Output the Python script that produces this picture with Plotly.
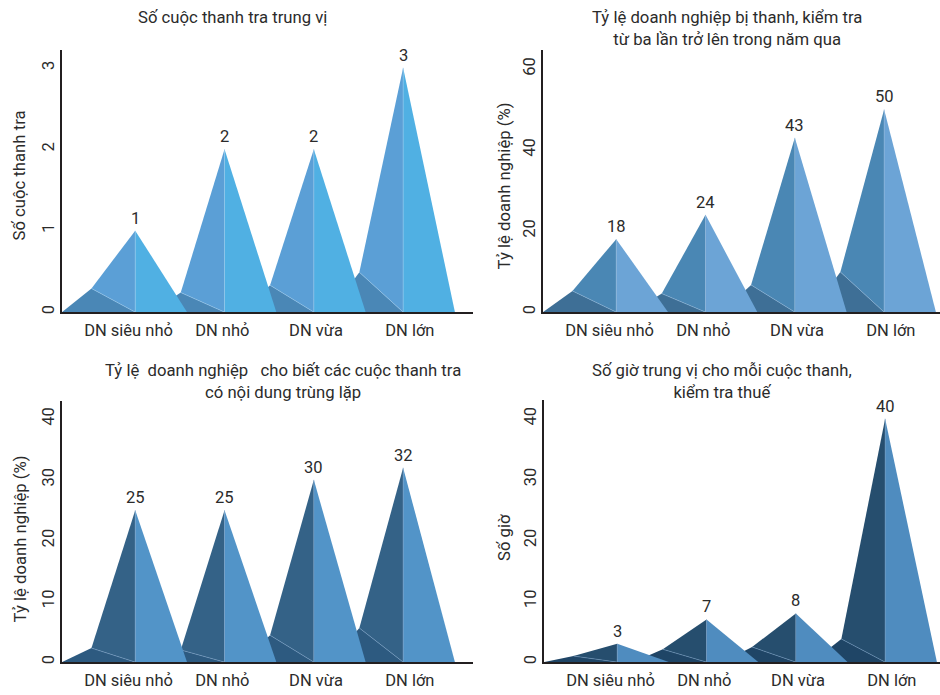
import plotly.graph_objects as go

# ---------------- data ----------------
CATEGORIES = ["DN siêu nhỏ", "DN nhỏ", "DN vừa", "DN lớn"]
INSPECTIONS_MEDIAN = [1, 2, 2, 3]          # Số cuộc thanh tra trung vị
FREQUENT_SHARE = [18, 24, 43, 50]          # % DN bị thanh, kiểm tra >= 3 lần
OVERLAP_SHARE = [25, 25, 30, 32]           # % DN cho biết nội dung trùng lặp
HOURS_MEDIAN = [3, 7, 8, 40]               # Số giờ trung vị / cuộc

TITLES = [
    "Số cuộc thanh tra trung vị",
    "Tỷ lệ doanh nghiệp bị thanh, kiểm tra<br>từ ba lần trở lên trong năm qua",
    "Tỷ lệ  doanh nghiệp   cho biết các cuộc thanh tra<br>có nội dung trùng lặp",
    "Số giờ trung vị cho mỗi cuộc thanh,<br>kiểm tra thuế",
]
Y_TITLES = ["Số cuộc thanh tra", "Tỷ lệ doanh nghiệp (%)", "Tỷ lệ doanh nghiệp (%)", "Số giờ"]
Y_TICKS = [[0, 1, 2, 3], [0, 20, 40, 60], [0, 10, 20, 30, 40], [0, 10, 20, 30, 40]]

# ---------------- style / geometry ----------------
W, H = 940, 695
FONT = "Roboto, Liberation Sans Narrow, Arial Narrow, sans-serif"
TXT = "#2b2b2b"
UNIT_PX = 89.3          # pixels per category step
APEX0 = 0.82            # first apex offset (category units)
LEFT_OFF = 0.82
BACK_OFF = 0.49
RIGHT_OFF = 0.58
LABEL_SPREAD = 0.05     # category labels slightly spread outward

panels = [
    dict(values=INSPECTIONS_MEDIAN, ymax=3.22, px=(62, 473), py=(313, 50),
         colors=("#4a87b6", "#5b9fd6", "#50b0e3"), edge="rgba(150,200,235,0.7)",
         back=[0.29, 0.12, 0.165, 0.163]),
    dict(values=FREQUENT_SHARE, ymax=64.7, px=(543, 940), py=(313, 50),
         colors=("#3e6f96", "#4a87b4", "#6ca4d6"), edge="rgba(140,180,215,0.7)",
         back=[0.29, 0.19, 0.156, 0.198]),
    dict(values=OVERLAP_SHARE, ymax=43.0, px=(62, 473), py=(664, 402),
         colors=("#2d5a80", "#346287", "#5294c8"), edge="rgba(120,160,200,0.7)",
         back=[0.092, 0.08, 0.147, 0.175]),
    dict(values=HOURS_MEDIAN, ymax=43.1, px=(544, 940), py=(664, 401),
         colors=("#1f4566", "#264e6e", "#4f8cbf"), edge="rgba(110,150,190,0.7)",
         back=[0.33, 0.30, 0.31, 0.095]),
]

title_pos = [(232, 18), (727, 28.5), (283, 382.5), (722, 382.5)]
ytitle_pos = [(19, 176), (504, 187), (20, 541), (505, 539.5)]

fig = go.Figure()
layout = dict(width=W, height=H, margin=dict(l=0, r=0, t=0, b=0),
              paper_bgcolor="white", plot_bgcolor="white", showlegend=False,
              font=dict(family=FONT, size=16.5, color=TXT))
annotations = []

for k, p in enumerate(panels):
    xa = "xaxis" if k == 0 else f"xaxis{k+1}"
    ya = "yaxis" if k == 0 else f"yaxis{k+1}"
    xr = "x" if k == 0 else f"x{k+1}"
    yr = "y" if k == 0 else f"y{k+1}"
    x0, x1 = p["px"]
    yb, yt = p["py"]
    xmax = (x1 - x0) / UNIT_PX
    n = len(CATEGORIES)
    apexes = [APEX0 + i for i in range(n)]
    dark, mid, light = p["colors"]
    # draw from back (last) to front (first)
    for i in reversed(range(n)):
        v = p["values"][i]
        c = apexes[i]
        bh = v * p["back"][i]
        L, B, R = c - LEFT_OFF, c - BACK_OFF, c + RIGHT_OFF
        faces = [
            ([L, B, c, L], [0, bh, 0, 0], dark),
            ([B, c, c, B], [bh, v, 0, bh], mid),
            ([c, R, c, c], [v, 0, 0, v], light),
        ]
        for fx, fy, col in faces:
            fig.add_trace(go.Scatter(x=fx, y=fy, fill="toself", fillcolor=col,
                                     mode="lines", line=dict(width=0, color=col),
                                     hoverinfo="skip", xaxis=xr, yaxis=yr))
        fig.add_trace(go.Scatter(x=[B, c, c], y=[bh, 0, v], mode="lines",
                                 line=dict(width=0.8, color=p["edge"]),
                                 hoverinfo="skip", xaxis=xr, yaxis=yr))
        annotations.append(dict(x=c, y=v, xref=xr, yref=yr, text=str(v),
                                showarrow=False, yanchor="bottom", yshift=1,
                                font=dict(size=16.5, color=TXT)))
    label_x = [a + (i - (n - 1) / 2) * LABEL_SPREAD for i, a in enumerate(apexes)]
    layout[xa] = dict(domain=[x0 / W, x1 / W], range=[0, xmax], showgrid=False,
                      zeroline=False, showline=True, linecolor="#231f20", linewidth=1.5,
                      ticks="", tickvals=label_x, ticktext=CATEGORIES,
                      ticklabelstandoff=2,
                      tickfont=dict(size=16.5, color=TXT), anchor=yr, fixedrange=True)
    layout[ya] = dict(domain=[1 - yb / H, 1 - yt / H], range=[0, p["ymax"]], showgrid=False,
                      zeroline=False, showline=True, linecolor="#231f20", linewidth=1.5,
                      ticks="", tickvals=Y_TICKS[k], tickangle=-90,
                      tickfont=dict(size=16.5, color=TXT), anchor=xr, fixedrange=True)
    tx, ty = title_pos[k]
    annotations.append(dict(x=tx / W, y=1 - ty / H, xref="paper", yref="paper",
                            text=TITLES[k], showarrow=False, xanchor="center",
                            yanchor="middle", font=dict(size=16.7, color=TXT)))
    yx, yy = ytitle_pos[k]
    annotations.append(dict(x=yx / W, y=1 - yy / H, xref="paper", yref="paper",
                            text=Y_TITLES[k], showarrow=False, textangle=-90,
                            xanchor="center", yanchor="middle",
                            font=dict(size=16.7, color=TXT)))

layout["annotations"] = annotations
fig.update_layout(**layout)
fig.write_html("out.html")
